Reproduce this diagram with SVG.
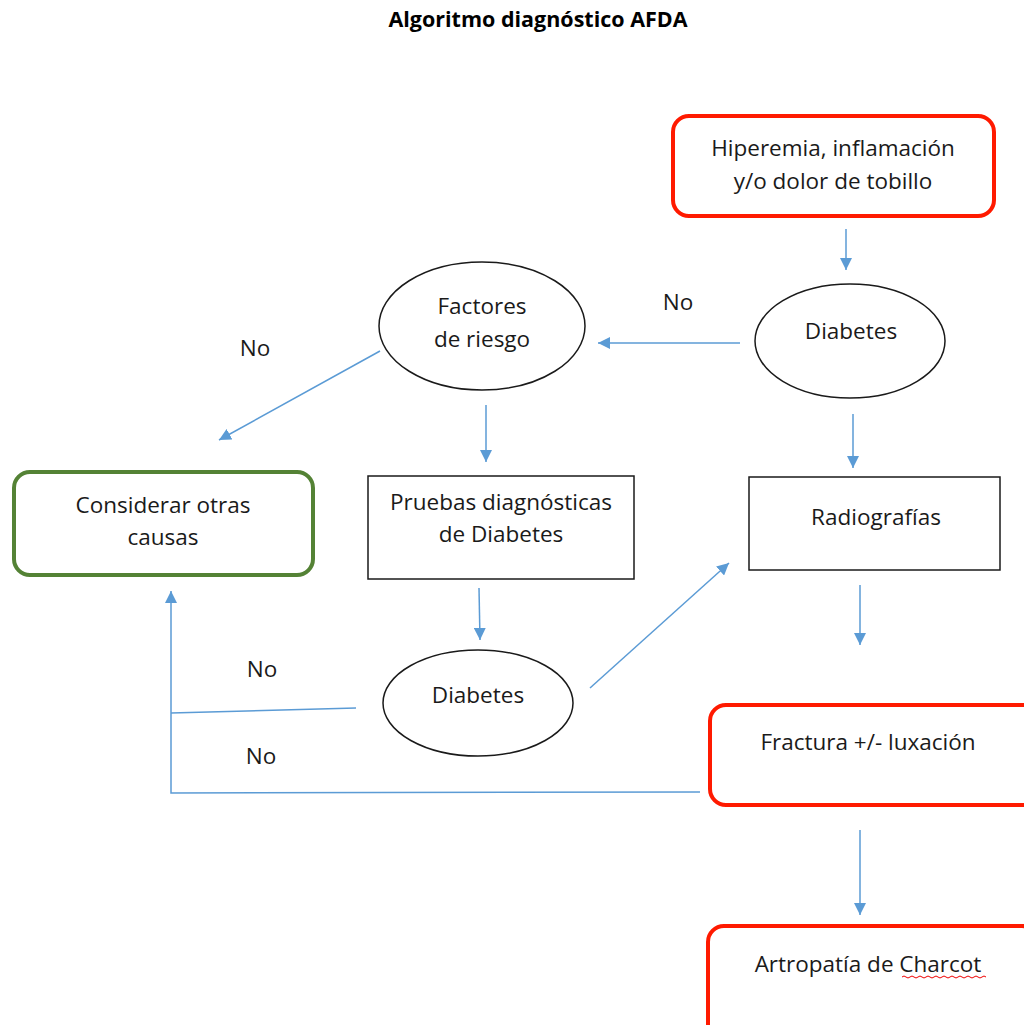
<svg xmlns="http://www.w3.org/2000/svg" width="1024" height="1025" viewBox="0 0 1024 1025">
<defs>
<marker id="ah" markerWidth="12" markerHeight="12" refX="10" refY="5" orient="auto" markerUnits="userSpaceOnUse" viewBox="0 0 10 10">
<path d="M0,0 L10,5 L0,10 z" fill="#5B9BD5"/>
</marker>
<style>
.t{font-family:"Open Sans",Lato,"Liberation Sans",sans-serif;font-size:22.5px;fill:#1a1a1a;text-anchor:middle}
.red{fill:#fff;stroke:#ff1a00;stroke-width:4}
.grn{fill:#fff;stroke:#548235;stroke-width:4}
.box{fill:#fff;stroke:#1a1a1a;stroke-width:1.5}
.ell{fill:#fff;stroke:#1a1a1a;stroke-width:1.5}
.c{stroke:#5B9BD5;stroke-width:1.5;fill:none}
.ca{stroke:#5B9BD5;stroke-width:1.5;fill:none;marker-end:url(#ah)}
</style>
</defs>
<rect width="1024" height="1025" fill="#fff"/>
<text x="538" y="27" style="font-family:'Open Sans',Lato,'Liberation Sans',sans-serif;font-size:21.5px;font-weight:bold;text-anchor:middle;fill:#000">Algoritmo diagnóstico AFDA</text>

<g id="connectors">
<line class="ca" x1="846" y1="229" x2="846" y2="270"/>
<line class="ca" x1="740" y1="343" x2="598" y2="343"/>
<line class="ca" x1="380" y1="351" x2="219" y2="440"/>
<line class="ca" x1="486" y1="405" x2="486" y2="462"/>
<line class="ca" x1="853" y1="414" x2="853" y2="468"/>
<line class="ca" x1="479" y1="588" x2="480" y2="640"/>
<line class="ca" x1="590" y1="688" x2="729" y2="563"/>
<line class="c" x1="356" y1="708" x2="171" y2="713"/>
<polyline class="ca" points="700,792 171,793 171,591"/>
<line class="ca" x1="860" y1="585" x2="860" y2="645"/>
<line class="ca" x1="860" y1="830" x2="860" y2="915"/>
</g>

<g id="labels">
<text class="t" x="678" y="310">No</text>
<text class="t" x="255" y="356">No</text>
<text class="t" x="262" y="677">No</text>
<text class="t" x="261" y="764">No</text>
</g>

<g id="hiperemia">
<rect class="red" x="673" y="116" width="321" height="100" rx="16"/>
<text class="t" x="833" y="156">Hiperemia, inflamación</text>
<text class="t" x="833" y="189">y/o dolor de tobillo</text>
</g>

<g id="diabetes1">
<ellipse class="ell" cx="850" cy="341" rx="95" ry="57"/>
<text class="t" x="851" y="339">Diabetes</text>
</g>

<g id="factores">
<ellipse class="ell" cx="482" cy="326" rx="103" ry="64"/>
<text class="t" x="482" y="314">Factores</text>
<text class="t" x="482" y="347">de riesgo</text>
</g>

<g id="considerar">
<rect class="grn" x="14" y="472" width="299" height="103" rx="16"/>
<text class="t" x="163" y="513">Considerar otras</text>
<text class="t" x="163" y="545">causas</text>
</g>

<g id="pruebas">
<rect class="box" x="368" y="476" width="266" height="103"/>
<text class="t" x="501" y="510">Pruebas diagnósticas</text>
<text class="t" x="501" y="542">de Diabetes</text>
</g>

<g id="radiografias">
<rect class="box" x="749" y="477" width="251" height="93"/>
<text class="t" x="876" y="525">Radiografías</text>
</g>

<g id="diabetes2">
<ellipse class="ell" cx="478" cy="703" rx="95" ry="53"/>
<text class="t" x="478" y="703">Diabetes</text>
</g>

<g id="fractura">
<rect class="red" x="710" y="705" width="330" height="100" rx="16"/>
<text class="t" x="868" y="750">Fractura +/- luxación</text>
</g>

<g id="artropatia">
<rect class="red" x="708" y="926" width="330" height="120" rx="16"/>
<text class="t" x="868" y="972">Artropatía de Charcot</text>
<path d="M902,977 q2,-2 4,0 t4,0 t4,0 t4,0 t4,0 t4,0 t4,0 t4,0 t4,0 t4,0 t4,0 t4,0 t4,0 t4,0 t4,0 t4,0 t4,0 t4,0 t4,0 t4,0 t4,0" fill="none" stroke="#e00" stroke-width="1"/>
</g>
</svg>
